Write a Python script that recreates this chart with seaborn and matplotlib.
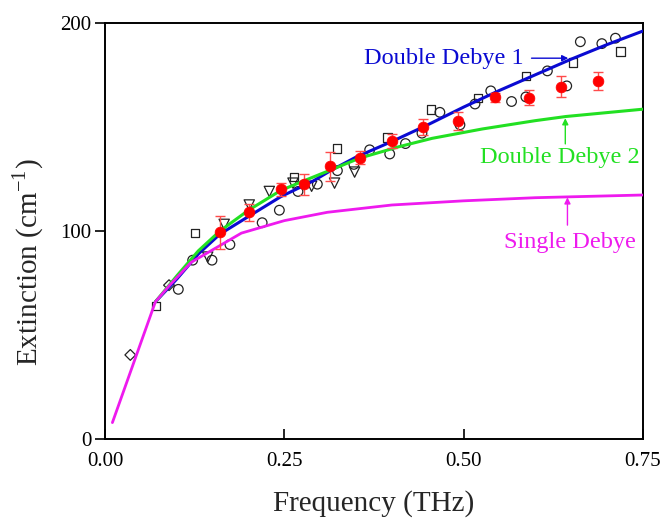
import numpy as np
import pandas as pd
import matplotlib
matplotlib.use('Agg')
import matplotlib.pyplot as plt
import seaborn as sns

# model curves
single_x = [0.01, 0.07, 0.09, 0.12, 0.19, 0.25, 0.31, 0.40, 0.50, 0.60, 0.75]
single_y = [8, 66, 74, 85, 99, 105, 109, 112.5, 114.5, 116, 117.3]

dd2_x = [0.07, 0.10, 0.13, 0.16, 0.20, 0.245, 0.28, 0.316, 0.355, 0.41, 0.456, 0.526, 0.60, 0.643, 0.75]
dd2_y = [66, 78.5, 90.5, 100, 110, 119.5, 124.5, 129.5, 135, 140.5, 144.5, 149, 153, 155, 158.5]

dd1_x = [0.07, 0.10, 0.13, 0.16, 0.20, 0.245, 0.29, 0.316, 0.35, 0.40, 0.45, 0.50, 0.55, 0.60, 0.65, 0.70, 0.75]
dd1_y = [66, 77, 89, 98.5, 107, 116.5, 124, 129.3, 135.5, 143, 151, 159.5, 167.5, 175, 182.5, 189.5, 196]

# measured points (red, with error bars)
red_x = [0.16, 0.20, 0.245, 0.277, 0.313, 0.355, 0.40, 0.444, 0.492, 0.544, 0.592, 0.636, 0.688]
red_y = [99.4, 109, 120, 122.4, 131, 135.2, 143.2, 150, 152.9, 164.2, 164, 169.3, 172]
red_err = [8, 4, 3, 5, 7, 3, 3.5, 4, 4.5, 2, 3.5, 5, 4.5]

# literature points (open markers)
circ_x = [0.102, 0.122, 0.149, 0.174, 0.219, 0.243, 0.269, 0.296, 0.324, 0.347, 0.369, 0.397,
          0.419, 0.442, 0.467, 0.495, 0.516, 0.538, 0.567, 0.587, 0.617, 0.644, 0.663, 0.693, 0.712]
circ_y = [72, 86, 86, 93.5, 104, 110, 119, 122.5, 129, 132, 139, 137,
          142, 147, 157, 151, 161, 167.3, 162.2, 164.4, 176.9, 169.7, 190.9, 190, 192.6]

sq_x = [0.071, 0.125, 0.263, 0.323, 0.394, 0.455, 0.520, 0.587, 0.653, 0.719]
sq_y = [64.1, 99, 126, 139.6, 144.9, 158.4, 163.8, 174.5, 180.9, 186.2]

tri_x = [0.143, 0.166, 0.201, 0.229, 0.262, 0.288, 0.320, 0.348]
tri_y = [87.5, 103.2, 112.5, 119, 123, 121.5, 123, 128.3]

dia_x = [0.035, 0.089]
dia_y = [40.5, 74]

BLUE = '#0a0ad2'
GREEN = '#22e022'
MAGENTA = '#ee1aee'
RED = '#ff0000'

sns.set_theme(style='ticks')
plt.rcParams['font.family'] = ['Liberation Serif', 'DejaVu Serif']
plt.rcParams['mathtext.fontset'] = 'stix'

fig = plt.figure(figsize=(6.66, 5.18), dpi=100)
ax = fig.add_axes([0.158, 0.152, 0.807, 0.804])

sns.lineplot(x=dd1_x, y=dd1_y, ax=ax, color=BLUE, lw=2.2, sort=False, estimator=None, zorder=3)
sns.lineplot(x=dd2_x, y=dd2_y, ax=ax, color=GREEN, lw=2.2, sort=False, estimator=None, zorder=3)
sns.lineplot(x=single_x, y=single_y, ax=ax, color=MAGENTA, lw=2.0, sort=False, estimator=None, zorder=4)

sns.scatterplot(x=circ_x, y=circ_y, ax=ax, marker='o', s=48, facecolor='none',
                edgecolor='#222222', linewidth=0.9, zorder=2)
sns.scatterplot(x=sq_x, y=sq_y, ax=ax, marker='s', s=36, facecolor='none',
                edgecolor='#222222', linewidth=0.9, zorder=2)
sns.scatterplot(x=tri_x, y=tri_y, ax=ax, marker='v', s=55, facecolor='none',
                edgecolor='#222222', linewidth=0.9, zorder=2)
sns.scatterplot(x=dia_x, y=dia_y, ax=ax, marker='D', s=30, facecolor='none',
                edgecolor='#222222', linewidth=0.9, zorder=2)

ax.errorbar(red_x, red_y, yerr=red_err, fmt='none', ecolor='#ff4a4a',
            elinewidth=1.0, capsize=3.5, capthick=1.0, zorder=5)
sns.scatterplot(x=red_x, y=red_y, ax=ax, marker='o', s=60, color=RED,
                edgecolor=RED, linewidth=0.5, zorder=6)

# curve labels with arrows
ax.text(0.584, 183, 'Double Debye 1', color=BLUE, fontsize=17.5, ha='right', va='center')
ax.annotate('', xy=(0.650, 183), xytext=(0.591, 183),
            arrowprops=dict(arrowstyle='-|>', color=BLUE, lw=1.0, mutation_scale=9))
ax.text(0.635, 135.5, 'Double Debye 2', color=GREEN, fontsize=17.5, ha='center', va='center')
ax.annotate('', xy=(0.642, 155.5), xytext=(0.642, 140.5),
            arrowprops=dict(arrowstyle='-|>', color=GREEN, lw=1.0, mutation_scale=9))
ax.text(0.649, 94.5, 'Single Debye', color=MAGENTA, fontsize=17.5, ha='center', va='center')
ax.annotate('', xy=(0.645, 117.5), xytext=(0.645, 101.5),
            arrowprops=dict(arrowstyle='-|>', color=MAGENTA, lw=1.0, mutation_scale=9))

ax.set_xlim(0, 0.75)
ax.set_ylim(0, 200)
ax.set_xticks([0.0, 0.25, 0.5, 0.75])
ax.set_xticklabels(['0.00', '0.25', '0.50', '0.75'])
ax.set_yticks([0, 100, 200])
ax.tick_params(axis='x', direction='in', length=7, width=1.2, labelsize=15, pad=9, colors='black')
ax.tick_params(axis='y', direction='out', length=7, width=1.2, labelsize=15, pad=3, colors='black')
for sp in ax.spines.values():
    sp.set_visible(True)
    sp.set_linewidth(1.4)
    sp.set_color('black')

ax.set_xlabel('Frequency (THz)', fontsize=21, labelpad=14)
ax.set_ylabel('Extinction (cm$^{\\mathregular{-1}}$)', fontsize=21)
ax.yaxis.set_label_coords(-0.11, 0.426)

fig.savefig('out.png', dpi=100, facecolor='white')
